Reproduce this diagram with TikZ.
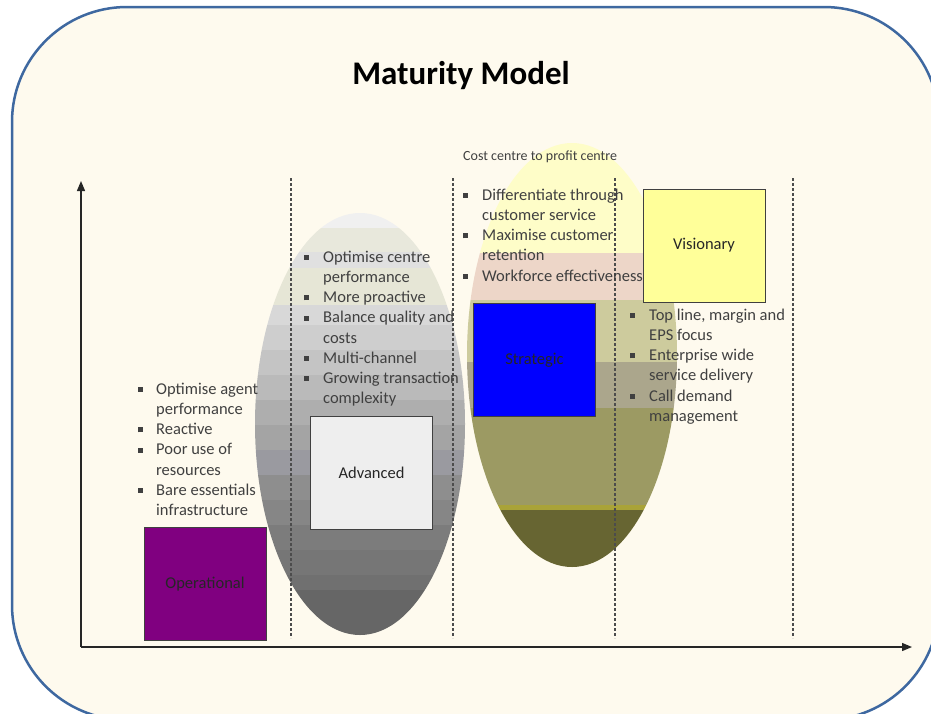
\documentclass[tikz,border=0pt]{standalone}
\usepackage{fontspec}
\setmainfont{Carlito}
\usepackage{xcolor}
\usetikzlibrary{arrows.meta}

\definecolor{cream}{RGB}{254,250,238}
\definecolor{frameblue}{RGB}{62,104,160}
\definecolor{textgray}{RGB}{64,64,64}
\definecolor{oppurple}{RGB}{128,0,128}
\definecolor{advgray}{RGB}{238,238,238}
\definecolor{stratblue}{RGB}{0,0,255}
\definecolor{visyellow}{RGB}{255,255,153}

\newcommand{\sqb}{\raisebox{0.3ex}{\rule{5pt}{5pt}}}

\begin{document}
\begin{tikzpicture}[x=1pt,y=-1pt,
	stage/.style={draw=black!75,line width=0.8pt,minimum width=122pt,minimum height=113pt,inner sep=0pt,text=black!85,font=\fontsize{16.5}{19}\selectfont},
	bullets/.style={text=textgray,inner sep=0pt,anchor=north west,font=\fontsize{16.5}{20.2}\selectfont},
	divider/.style={dashed,dash pattern=on 3pt off 2pt,black!70,line width=1.1pt},
	axis/.style={line width=1.3pt,black!85,-{Triangle[length=10pt,width=8pt]}}]
	\useasboundingbox (0,0) rectangle (931,713);
	\fill[white] (0,0) rectangle (931,713);
	\draw[frameblue,fill=cream,line width=2.5pt,rounded corners=115pt] (12,7) rectangle (939,720);

	\node[font=\fontsize{33}{39}\selectfont\bfseries] (title) at (461,76) {Maturity Model};

	% grey ellipse
	\begin{scope}
		\clip (360,424) ellipse [x radius=105,y radius=211];
		\foreach \ya/\yb/\r/\g/\b in {200/228/240/240/240, 228/252/232/232/220, 252/268/224/224/224,
			268/305/230/230/214, 305/325/216/216/216, 325/350/206/206/206, 350/375/196/196/196,
			375/400/186/186/186, 400/425/174/174/174, 425/450/164/164/164, 450/475/154/154/160,
			475/500/142/142/142, 500/525/134/134/134, 525/550/124/124/124, 550/575/118/118/118,
			575/590/112/112/112, 590/640/102/102/102}
			\fill[fill={rgb,255:red,\r;green,\g;blue,\b}] (250,\ya) rectangle (470,\yb+0.4);
	\end{scope}

	% olive ellipse
	\begin{scope}
		\clip (572,355) ellipse [x radius=105,y radius=212];
		\foreach \ya/\yb/\r/\g/\b in {140/253/254/253/200, 253/300/237/214/200, 300/362/205/203/157,
			362/408/171/166/140, 408/505/156/154/99, 505/510/169/163/56, 510/570/103/101/50}
			\fill[fill={rgb,255:red,\r;green,\g;blue,\b}] (460,\ya) rectangle (690,\yb+0.4);
	\end{scope}

	\foreach \x in {291,453,615,793}
		\draw[divider] (\x,178) -- (\x,638);

	\node[stage,fill=oppurple] (operational) at (205,584) {Operational};
	\node[stage,fill=advgray] (advanced) at (371.5,472.5) {Advanced};
	\node[stage,fill=stratblue] (strategic) at (534.5,360) {Strategic};
	\node[stage,fill=visyellow] (visionary) at (704,245.5) {Visionary};

	\node[bullets] (oplist) at (138,380) {\begin{tabular}{@{}p{18pt}@{}l@{}}
		\sqb & Optimise agent\\ & performance\\ \sqb & Reactive\\ \sqb & Poor use of\\
		& resources\\ \sqb & Bare essentials\\ & infrastructure\end{tabular}};
	\node[bullets] (advlist) at (304,248) {\begin{tabular}{@{}p{19pt}@{}l@{}}
		\sqb & Optimise centre\\ & performance\\ \sqb & More proactive\\ \sqb & Balance quality and\\
		& costs\\ \sqb & Multi-channel\\ \sqb & Growing transaction\\ & complexity\end{tabular}};
	\node[bullets] (stratlist) at (463,186) {\begin{tabular}{@{}p{19pt}@{}l@{}}
		\sqb & Differentiate through\\ & customer service\\ \sqb & Maximise customer\\
		& retention\\ \sqb & Workforce effectiveness\end{tabular}};
	\node[bullets] (vislist) at (630,306) {\begin{tabular}{@{}p{19pt}@{}l@{}}
		\sqb & Top line, margin and\\ & EPS focus\\ \sqb & Enterprise wide\\
		& service delivery\\ \sqb & Call demand\\ & management\end{tabular}};
	\node[bullets,anchor=base west,font=\fontsize{14}{17}\selectfont] (costprofit) at (463,160) {Cost centre to profit centre};

	% axes
	\coordinate (orig) at (81,647);
	\coordinate (ytop) at (81,181);
	\coordinate (xend) at (912,647);
	\draw[axis] (orig) -- (ytop);
	\draw[axis] (orig) -- (xend);
\end{tikzpicture}
\end{document}
